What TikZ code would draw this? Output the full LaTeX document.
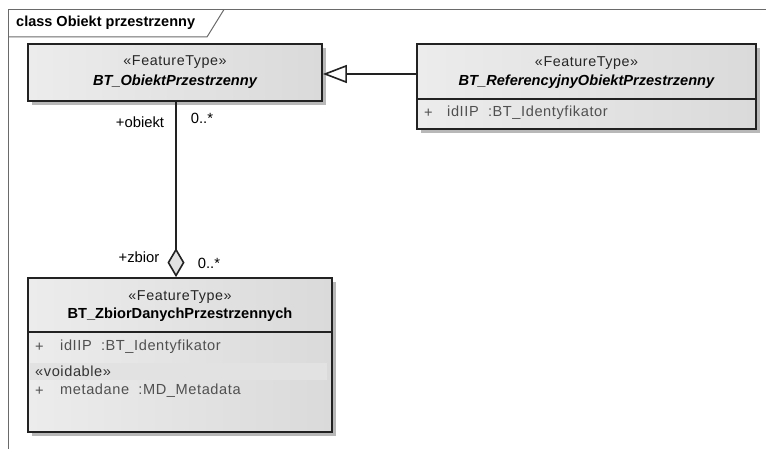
\documentclass[tikz,border=0pt]{standalone}
\usepackage{fontspec}
\setmainfont{Liberation Sans}
\usetikzlibrary{arrows.meta,shadows}
\definecolor{frameline}{HTML}{6A6A6A}
\definecolor{boxline}{HTML}{222222}
\definecolor{boxleft}{HTML}{ECECEC}
\definecolor{boxright}{HTML}{DADADA}
\definecolor{attrtext}{HTML}{505050}
\definecolor{shadowgray}{HTML}{B8B8B8}
\definecolor{bandgray}{HTML}{E2E2E2}
\newfontfamily\spacedfont[LetterSpace=4]{Liberation Sans}
\tikzset{
  classbox/.style={draw=boxline, line width=1.8pt, left color=boxleft, right color=boxright,
    drop shadow={shadow xshift=4pt, shadow yshift=-4pt, fill=shadowgray, opacity=1},
    inner sep=0pt},
  stereo/.style={font=\spacedfont\fontsize{14.3}{16}\selectfont, text=black!85, inner sep=0pt},
  cname/.style={font=\fontsize{14.6}{17}\selectfont\bfseries\itshape, inner sep=0pt},
  cnamebf/.style={font=\fontsize{14.6}{17}\selectfont\bfseries, inner sep=0pt},
  attr/.style={font=\spacedfont\fontsize{14.6}{17}\selectfont, text=attrtext, inner sep=0pt, anchor=west},
  role/.style={font=\fontsize{14.8}{17}\selectfont, inner sep=0pt},
  sepline/.style={draw=boxline, line width=1.2pt},
  conn/.style={draw=boxline, line width=1.6pt}
}
\begin{document}
\begin{tikzpicture}[x=1pt,y=-1pt]
\useasboundingbox (0,0) rectangle (766,449);
% frame
\draw[frameline, line width=1pt] (8.5,449) -- (8.5,9.5) -- (766,9.5);
\draw[frameline, line width=1pt] (8.5,37) -- (207,37) -- (224,9.5);
\node[anchor=west, font=\fontsize{14.5}{17}\selectfont\bfseries, inner sep=0pt] (title) at (16,23) {class Obiekt przestrzenny};

% box 1
\node[classbox, minimum width=294pt, minimum height=57pt] (b1) at (175,72.5) {};
\node[stereo] (b1s) at (175,62) {«FeatureType»};
\node[cname] (b1n) at (175,82) {BT\_ObiektPrzestrzenny};

% box 2
\node[classbox, minimum width=339pt, minimum height=85pt] (b2) at (586.5,86.5) {};
\node[stereo] (b2s) at (586.5,63) {«FeatureType»};
\node[cname] (b2n) at (586.5,82) {BT\_ReferencyjnyObiektPrzestrzenny};
\draw[sepline] (b2.west |- 0,99) coordinate (b2sl) -- (b2.east |- 0,99) coordinate (b2sr);
\node[attr] (b2p) at (424,113) {+};
\node[attr] (b2a) at (447,113) {idIIP\ \ :BT\_Identyfikator};

% box 3
\node[classbox, minimum width=304pt, minimum height=154pt] (b3) at (180,355) {};
\node[stereo] (b3s) at (180,297) {«FeatureType»};
\node[cnamebf] (b3n) at (180,315) {BT\_ZbiorDanychPrzestrzennych};
\draw[sepline] (b3.west |- 0,332) coordinate (b3sl) -- (b3.east |- 0,332) coordinate (b3sr);
\fill[bandgray] (29.5,363) rectangle (327,380);
\node[attr] (b3p) at (35,347) {+};
\node[attr] (b3a) at (60,347) {idIIP\ \ :BT\_Identyfikator};
\node[attr, text=black!80] (b3v) at (35,371) {«voidable»};
\node[attr] (b3p2) at (35,391) {+};
\node[attr] (b3m) at (60,391) {metadane\ \ :MD\_Metadata};

% generalization
\draw[conn, -{Triangle[open, length=24pt, width=18pt, fill=white]}] ([yshift=-1.5pt]b1.east -| b2.west) coordinate (g2) -- ([yshift=-1.5pt]b1.east);

% aggregation
\draw[conn, -{Diamond[open, length=29pt, width=17pt, fill=bandgray]}] ([xshift=1pt]b1.south) -- ([xshift=1pt]b1.south |- b3.north);

% role labels
\node[role] (r1) at (140,122) {+obiekt};
\node[role] (m1) at (202,118) {0..*};
\node[role] (r2) at (139,257) {+zbior};
\node[role] (m2) at (209,263) {0..*};
\end{tikzpicture}
\end{document}
